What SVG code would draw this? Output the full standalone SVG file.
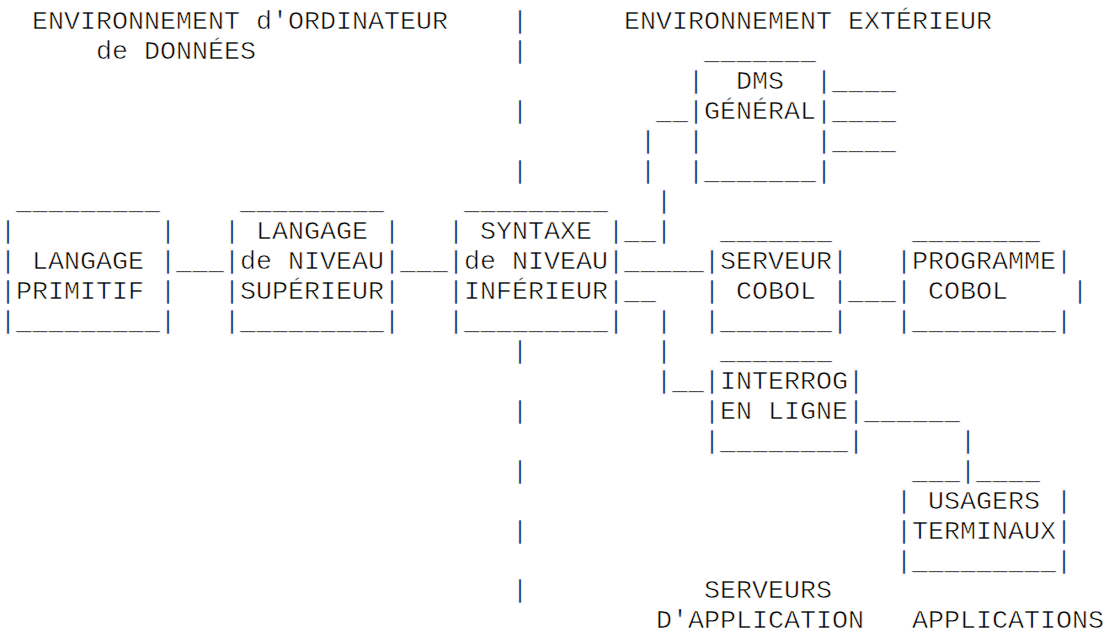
<svg xmlns="http://www.w3.org/2000/svg" width="1106" height="636" viewBox="0 0 1106 636" xml:space="preserve">
  <style>
    text { font-family: "Liberation Mono", "DejaVu Sans Mono", monospace; font-size: 26.667px; fill: #000; white-space: pre; stroke: #fff; stroke-width: 0.6px; }
  </style>
  <rect width="1106" height="636" fill="#fff"/>

  <!-- headings of the two environments -->
  <g id="env-ordinateur">
    <text x="32" y="29">ENVIRONNEMENT d'ORDINATEUR</text>
    <text x="96" y="59">de DONNÉES</text>
  </g>
  <g id="env-exterieur">
    <text x="624" y="29">ENVIRONNEMENT EXTÉRIEUR</text>
  </g>

  <!-- dotted divider between the two environments -->
  <g id="divider">
    <text x="512" y="29">|</text>
    <text x="512" y="59">|</text>
    <text x="512" y="119">|</text>
    <text x="512" y="179">|</text>
    <text x="512" y="359">|</text>
    <text x="512" y="419">|</text>
    <text x="512" y="478.8">|</text>
    <text x="512" y="538.6">|</text>
    <text x="512" y="598.4">|</text>
  </g>

  <g id="langage-primitif">
    <text x="16" y="209">_________</text>
    <text x="0" y="239">|         |</text>
    <text x="0" y="269">| LANGAGE |</text>
    <text x="0" y="299">|PRIMITIF |</text>
    <text x="0" y="329">|_________|</text>
  </g>

  <g id="langage-superieur">
    <text x="240" y="209">_________</text>
    <text x="224" y="239">| LANGAGE |</text>
    <text x="224" y="269">|de NIVEAU|</text>
    <text x="224" y="299">|SUPÉRIEUR|</text>
    <text x="224" y="329">|_________|</text>
  </g>

  <g id="syntaxe-inferieur">
    <text x="464" y="209">_________</text>
    <text x="448" y="239">| SYNTAXE |</text>
    <text x="448" y="269">|de NIVEAU|</text>
    <text x="448" y="299">|INFÉRIEUR|</text>
    <text x="448" y="329">|_________|</text>
  </g>

  <g id="dms-general">
    <text x="704" y="59">_______</text>
    <text x="688" y="89">|  DMS  |</text>
    <text x="688" y="119">|GÉNÉRAL|</text>
    <text x="688" y="149">|       |</text>
    <text x="688" y="179">|_______|</text>
  </g>

  <g id="serveur-cobol">
    <text x="720" y="239">_______</text>
    <text x="704" y="269">|SERVEUR|</text>
    <text x="704" y="299">| COBOL |</text>
    <text x="704" y="329">|_______|</text>
  </g>

  <g id="programme-cobol">
    <text x="912" y="239">________</text>
    <text x="896" y="269">|PROGRAMME|</text>
    <text x="896" y="299">| COBOL    |</text>
    <text x="896" y="329">|_________|</text>
  </g>

  <g id="interrog-en-ligne">
    <text x="720" y="359">_______</text>
    <text x="704" y="389">|INTERROG|</text>
    <text x="704" y="419">|EN LIGNE|</text>
    <text x="704" y="449">|________|</text>
  </g>

  <g id="usagers-terminaux">
    <text x="912" y="478.8">___</text>
    <text x="976" y="478.8">____</text>
    <text x="896" y="508.7">| USAGERS |</text>
    <text x="896" y="538.6">|TERMINAUX|</text>
    <text x="896" y="568.5">|_________|</text>
  </g>

  <!-- column captions -->
  <g id="serveurs-application">
    <text x="704" y="598.4">SERVEURS</text>
    <text x="656" y="628">D'APPLICATION</text>
  </g>
  <g id="applications">
    <text x="912" y="628">APPLICATIONS</text>
  </g>

  <!-- links between the boxes -->
  <g id="connectors">
    <!-- language chain -->
    <text x="176" y="269">___</text>
    <text x="400" y="269">___</text>
    <!-- syntax level to COBOL server -->
    <text x="624" y="269">_____</text>
    <!-- syntax level up to DMS -->
    <text x="624" y="239">__|</text>
    <text x="656" y="209">|</text>
    <text x="640" y="179">|</text>
    <text x="640" y="149">|</text>
    <text x="656" y="119">__</text>
    <!-- DMS outputs -->
    <text x="832" y="89">____</text>
    <text x="832" y="119">____</text>
    <text x="832" y="149">____</text>
    <!-- syntax level down to online query -->
    <text x="624" y="299">__</text>
    <text x="656" y="329">|</text>
    <text x="656" y="359">|</text>
    <text x="656" y="389">|__</text>
    <!-- COBOL server to COBOL program -->
    <text x="848" y="299">___</text>
    <!-- online query to terminal users -->
    <text x="864" y="419">______</text>
    <text x="960" y="449">|</text>
    <text x="960" y="478.8">|</text>
  </g>
</svg>
